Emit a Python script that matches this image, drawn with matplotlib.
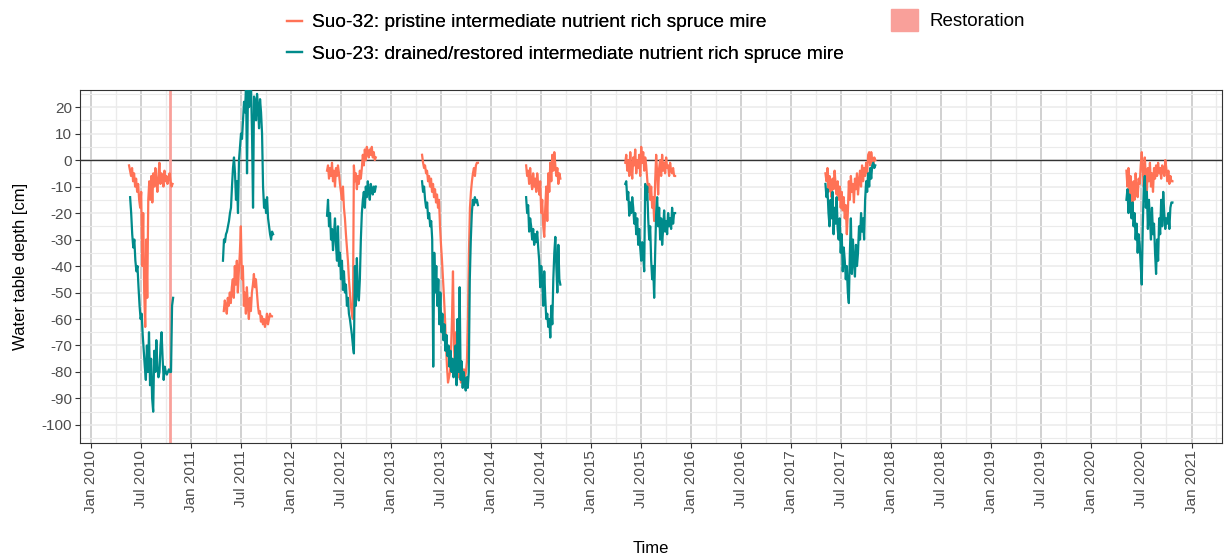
import matplotlib
matplotlib.use("Agg")
import matplotlib.pyplot as plt
import matplotlib.dates as mdates
import matplotlib.patches as mpatches
from matplotlib.lines import Line2D
import pandas as pd

plt.rcParams["font.family"] = ["Liberation Sans", "DejaVu Sans"]
plt.rcParams["axes.unicode_minus"] = False

RED = "#FF7256"
TEAL = "#008B8B"
RESTO = "#F9A09A"

# measurement seasons: (start, end) for each site
seasons_32 = [("2010-05-19", "2010-10-25"), ("2011-04-30", "2011-10-23"),
              ("2012-05-11", "2012-11-05"), ("2013-04-23", "2013-11-13"),
              ("2014-05-08", "2014-09-10"), ("2015-05-05", "2015-11-03"),
              ("2017-05-05", "2017-11-03"), ("2020-05-08", "2020-10-23")]
seasons_23 = [("2010-05-23", "2010-10-27"), ("2011-04-27", "2011-10-27"),
              ("2012-05-11", "2012-11-05"), ("2013-04-23", "2013-11-13"),
              ("2014-05-08", "2014-09-10"), ("2015-05-05", "2015-11-03"),
              ("2017-05-05", "2017-11-03"), ("2020-05-08", "2020-10-23")]

# Suo-32 water table depth [cm]
suo32_2010 = [-2, -4, -6, -3, -8, -5, -10, -7, -12, -9, -15, -18, -12, -40, -20, -50,
              -63, -30, -52, -15, -8, -15, -6, -16, -5, -10, -3, -8, -12, -6, -1, -9,
              -5, -7, -10, -4, -8, -6, -9, -7, -5, -8, -10, -9]
suo32_2011 = [-57, -53, -55, -58, -52, -55, -50, -54, -48, -45, -52, -40, -47, -38, -50,
              -42, -35, -25, -45, -40, -55, -50, -58, -48, -55, -60, -52, -57, -50, -47,
              -43, -48, -45, -50, -55, -58, -57, -61, -59, -62, -60, -63, -61, -58, -62,
              -60, -58, -59, -59]
suo32_2012 = [-4, -2, -7, -3, -6, -1, -8, -4, -10, -3, -6, -2, -5, -9, -12, -15, -10,
              -18, -22, -28, -33, -38, -45, -50, -55, -58, -60, -2, -8, -5, -11, -6, -9,
              -4, -7, -3, 2, -2, 4, 0, 5, 3, 1, 4, 2, 5, 1, 3, 0, 1]
suo32_2013 = [2, -1, -3, -2, -5, -4, -8, -6, -10, -7, -12, -9, -14, -11, -16, -13, -18,
              -15, -25, -32, -38, -45, -52, -60, -70, -78, -84, -82, -80, -72, -60, -42,
              -70, -80, -65, -83, -75, -82, -78, -84, -80, -83, -79, -82, -80, -76, -60,
              -35, -18, -12, -8, -5, -3, -6, -2, -1, -1]
suo32_2014 = [-2, -6, -4, -9, -3, -8, -11, -5, -10, -7, -12, -5, -9, -13, -8, -20, -15,
              -25, -29, -18, -10, -23, -5, -12, -1, -8, 2, -4, 3, -2, -6, -3, -9, -5, -7]
suo32_2015 = [-1, 2, -4, 0, -6, 3, -3, -7, 1, -2, 4, -5, 0, -3, 2, -6, 5, -1, 3, -4, 1,
              -2, -7, -12, -9, -15, -10, -18, -14, -23, -8, 2, -5, -13, -3, 0, -6, 2, -4,
              -1, -5, 1, -3, -2, -6, -1, -4, -5, -3, -6, -6]
suo32_2017 = [-5, -8, -3, -12, -6, -10, -14, -7, -11, -4, -9, -13, -8, -15, -10, -18,
              -12, -19, -14, -22, -17, -28, -20, -8, -15, -6, -12, -9, -16, -7, -11, -5,
              -13, -8, -4, -10, -2, -8, -3, -6, -1, -5, 2, 3, -2, 3, 0, -2, 1, 0]
suo32_2020 = [-4, -10, -3, -14, -6, -12, -19, -8, -15, -5, -11, -14, -7, -9, -2, 3, -4,
              -10, 1, -6, -12, -3, -8, -1, -10, -5, -12, -3, -7, -2, -6, -1, -5, -3, -7,
              -2, -4, -6, 0, -3, -8, -4, -9, -6, -8, -8]

# Suo-23 water table depth [cm]
suo23_2010 = [-14, -20, -28, -33, -30, -38, -42, -40, -48, -55, -60, -58, -66, -72, -78,
              -83, -70, -80, -65, -85, -75, -90, -95, -72, -80, -68, -78, -82, -80, -70,
              -65, -75, -83, -78, -80, -81, -80, -79, -80, -80, -55, -52]
suo23_2011 = [-38, -30, -31, -28, -27, -25, -23, -20, -18, -10, -3, 1, -5, -15, -8, -20,
              0, 5, 10, 8, 15, 22, 18, 28, -5, 28, 20, 24, 28, 10, -18, 24, 22, 15, 25,
              20, 12, 23, 18, 10, -10, -18, -15, -20, -14, -22, -25, -28, -30, -27, -28]
suo23_2012 = [-21, -15, -25, -20, -30, -26, -34, -28, -22, -32, -38, -25, -40, -35, -45,
              -38, -49, -42, -50, -47, -55, -52, -58, -60, -63, -66, -70, -73, -40, -55,
              -37, -50, -53, -45, -30, -20, -15, -12, -18, -10, -14, -8, -12, -15, -9,
              -11, -13, -10, -12, -10]
suo23_2013 = [-8, -12, -10, -15, -18, -16, -22, -20, -25, -23, -30, -78, -35, -50, -40,
              -55, -45, -62, -50, -65, -58, -68, -62, -72, -66, -74, -70, -78, -72, -80,
              -75, -82, -78, -70, -85, -60, -80, -48, -83, -76, -86, -80, -84, -87, -82,
              -86, -80, -45, -30, -20, -15, -17, -14, -16, -15, -17]
suo23_2014 = [-14, -20, -17, -27, -22, -25, -30, -26, -32, -28, -31, -27, -33, -38, -48,
              -40, -45, -55, -42, -52, -60, -58, -63, -60, -67, -55, -62, -45, -35, -29,
              -40, -50, -32, -45, -47]
suo23_2015 = [-9, -8, -15, -12, -21, -16, -20, -14, -18, -24, -20, -28, -22, -32, -26,
              -33, -38, -31, -36, -42, -9, -15, -10, -22, -30, -25, -38, -45, -40, -52,
              -35, -20, -14, -25, -18, -30, -22, -32, -26, -19, -27, -23, -28, -20, -25,
              -22, -26, -18, -24, -20, -20]
suo23_2017 = [-9, -14, -11, -20, -25, -15, -22, -12, -28, -18, -24, -14, -26, -30, -22,
              -35, -28, -42, -33, -38, -45, -40, -50, -54, -35, -22, -43, -30, -38, -44,
              -32, -40, -35, -25, -30, -20, -27, -22, -30, -15, -8, -12, -5, -10, -3, -7,
              -2, -1, -3, -2]
suo23_2020 = [-15, -11, -20, -13, -18, -22, -16, -25, -20, -30, -24, -35, -28, -32, -40,
              -47, -25, -10, -6, -18, -12, -26, -15, -22, -30, -18, -28, -24, -35, -43,
              -30, -38, -22, -28, -15, -25, -12, -20, -26, -22, -24, -20, -26, -18, -16,
              -16]

suo32 = [suo32_2010, suo32_2011, suo32_2012, suo32_2013,
         suo32_2014, suo32_2015, suo32_2017, suo32_2020]
suo23 = [suo23_2010, suo23_2011, suo23_2012, suo23_2013,
         suo23_2014, suo23_2015, suo23_2017, suo23_2020]

restoration_date = "2010-10-15"

fig = plt.figure(figsize=(12.29, 5.6), dpi=100)
ax = fig.add_axes([0.0651, 0.209, 0.9292, 0.630])

# grid like theme_bw with darker vertical major lines
ax.xaxis.set_major_locator(mdates.MonthLocator(bymonth=[1, 7]))
ax.xaxis.set_minor_locator(mdates.MonthLocator(bymonth=[4, 10]))
ax.xaxis.set_major_formatter(mdates.DateFormatter("%b %Y"))
yt = list(range(-100, 21, 10))
ax.set_yticks(yt)
ax.set_yticklabels([str(v) for v in yt])
ax.set_yticks(list(range(-105, 26, 10)), minor=True)
ax.grid(which="major", axis="x", color="#C4C4C4", lw=1.1)
ax.grid(which="minor", axis="x", color="#EBEBEB", lw=1.0)
ax.grid(which="major", axis="y", color="#EBEBEB", lw=1.1)
ax.grid(which="minor", axis="y", color="#EBEBEB", lw=0.8)
ax.set_axisbelow(True)

ax.axhline(0, color="#333333", lw=1.0, zorder=2)
ax.axvline(pd.Timestamp(restoration_date), color=RESTO, lw=2.0, zorder=2)

for (s, e), vals in zip(seasons_32, suo32):
    d = pd.date_range(s, e, periods=len(vals))
    ax.plot(d, vals, color=RED, lw=1.6, zorder=3)
for (s, e), vals in zip(seasons_23, suo23):
    d = pd.date_range(s, e, periods=len(vals))
    ax.plot(d, vals, color=TEAL, lw=1.6, zorder=4)

ax.set_xlim(pd.Timestamp("2009-11-21"), pd.Timestamp("2021-04-22"))
ax.set_ylim(-106.8, 26.4)

for sp in ax.spines.values():
    sp.set_color("#333333")
    sp.set_linewidth(0.8)
ax.tick_params(which="major", length=3.5, color="#333333", width=0.8,
               labelsize=11, labelcolor="#4D4D4D", pad=2)
ax.tick_params(which="minor", length=0)
plt.setp(ax.get_xticklabels(), rotation=90, ha="center", va="top")

ax.set_xlabel("Time", fontsize=12, color="black", labelpad=20)
ax.set_ylabel("Water table depth [cm]", fontsize=12, color="black", labelpad=10)

h1 = [Line2D([], [], color=RED, lw=1.6),
      Line2D([], [], color=TEAL, lw=1.6)]
leg1 = fig.legend(h1, ["Suo-32: pristine intermediate nutrient rich spruce mire",
                       "Suo-23: drained/restored intermediate nutrient rich spruce mire"],
                  loc="upper left", bbox_to_anchor=(287 / 1229, 1 - 14 / 560),
                  frameon=False, fontsize=13.8, borderpad=0, borderaxespad=0,
                  handlelength=0.8, handletextpad=0.5, labelspacing=0.75)
fig.add_artist(leg1)
h2 = [mpatches.Patch(color=RESTO)]
fig.legend(h2, ["Restoration"], loc="upper left",
           bbox_to_anchor=(891 / 1229, 1 - 9 / 560), frameon=False, fontsize=13.5,
           borderpad=0, borderaxespad=0, handlelength=1.45, handleheight=1.4,
           handletextpad=0.6)

fig.savefig("out.png", dpi=100)
